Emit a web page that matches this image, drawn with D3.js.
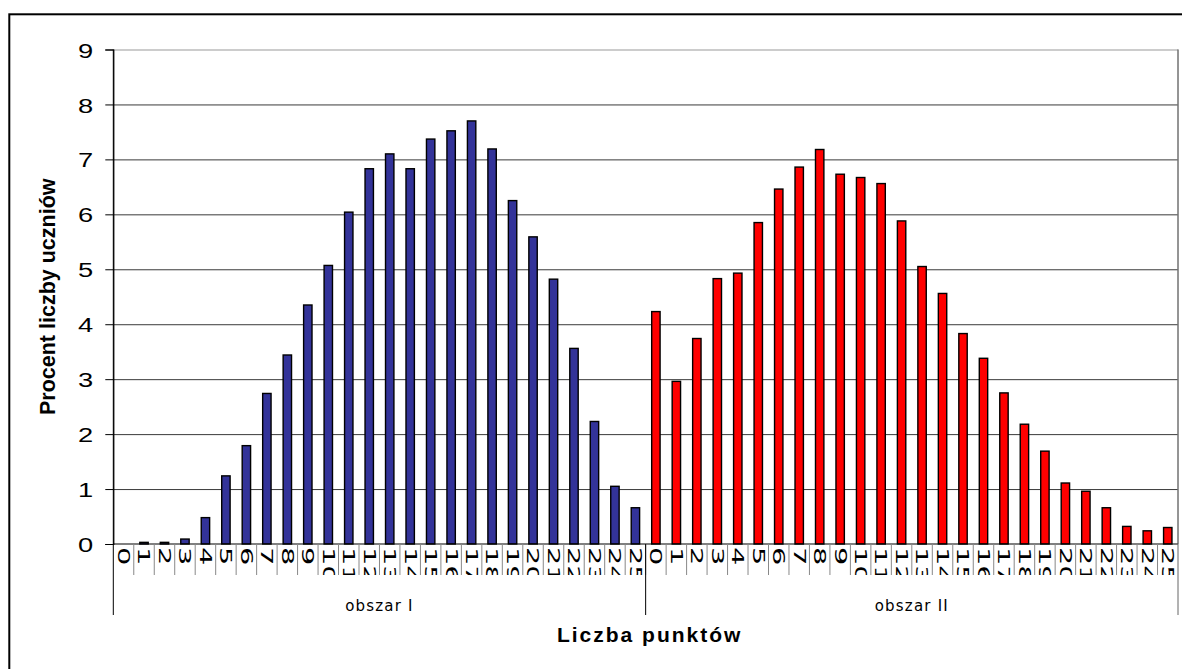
<!DOCTYPE html>
<html>
<head>
<meta charset="utf-8">
<script src="https://cdn.jsdelivr.net/npm/d3@7"></script>
<style>
  html, body { margin: 0; padding: 0; background: #fff; }
  svg { display: block; }
</style>
</head>
<body>
<svg id="chart" width="1182" height="669"></svg>
<script>
// ---- data ----
const points = ["0","1","2","3","4","5","6","7","8","9","10","11","12","13","14","15","16","17","18","19","20","21","22","23","24","25"];
const groups = ["obszar I", "obszar II"];
const obszarI  = [0, 0.03, 0.03, 0.09, 0.48, 1.24, 1.79, 2.74, 3.44, 4.35, 5.07, 6.04, 6.83, 7.10, 6.83, 7.37, 7.52, 7.70, 7.19, 6.25, 5.59, 4.82, 3.56, 2.23, 1.05, 0.66];
const obszarII = [4.23, 2.96, 3.74, 4.83, 4.93, 5.85, 6.46, 6.86, 7.18, 6.73, 6.67, 6.56, 5.88, 5.05, 4.56, 3.83, 3.38, 2.75, 2.18, 1.69, 1.11, 0.96, 0.66, 0.32, 0.24, 0.30];
const yTicks = [0,1,2,3,4,5,6,7,8,9];
const seriesColors = ["#333399", "#FF0000"];
const yTitle = "Procent liczby uczniów";
const xTitle = "Liczba punktów";

(function () {
// ---- build rows ----
const seriesValues = [obszarI, obszarII];
const rows = [];
groups.forEach((g, gi) => {
  points.forEach((p, pi) => {
    rows.push({ key: gi + "-" + p, group: gi, label: p, value: seriesValues[gi][pi] });
  });
});

const svg = d3.select("#chart");
const pLeft = 113.3, pRight = 1178, pTop = 49.5, pBottom = 544;

const x = d3.scaleBand().domain(rows.map(d => d.key)).range([pLeft, pRight]).padding(0);
const y = d3.scaleLinear().domain([0, 9]).range([pBottom, pTop]);

// outer border (cropped at right/bottom)
svg.append("rect")
  .attr("x", 9.3).attr("y", 14.3)
  .attr("width", 1250).attr("height", 750)
  .attr("fill", "none").attr("stroke", "#000").attr("stroke-width", 2);

// gridlines
const grid = svg.append("g")
  .attr("transform", `translate(${pLeft},0)`)
  .call(d3.axisLeft(y).tickValues(yTicks.filter(t => t > 0)).tickSize(-(pRight - pLeft)).tickFormat(""));
grid.select(".domain").remove();
grid.selectAll("line").attr("stroke", "#3a3a3a").attr("stroke-width", 1);
grid.selectAll(".tick").filter(d => d === 9).select("line").attr("stroke", "#999");

// plot right border
svg.append("line")
  .attr("x1", pRight).attr("x2", pRight).attr("y1", pTop).attr("y2", pBottom)
  .attr("stroke", "#888").attr("stroke-width", 1);

// bars
const bw = x.bandwidth() * 0.41;
svg.append("g").selectAll("rect")
  .data(rows.filter(d => d.value > 0))
  .join("rect")
  .attr("x", d => x(d.key) + (x.bandwidth() - bw) / 2)
  .attr("y", d => y(d.value))
  .attr("width", bw)
  .attr("height", d => y(0) - y(d.value))
  .attr("fill", d => seriesColors[d.group])
  .attr("stroke", "#000")
  .attr("stroke-width", 1.4);

// y axis
const yAxis = svg.append("g")
  .attr("transform", `translate(${pLeft},0)`)
  .call(d3.axisLeft(y).tickValues(yTicks).tickSize(8).tickPadding(0).tickFormat(d3.format("d")));
yAxis.select(".domain").attr("stroke", "#000").attr("stroke-width", 1.2);
yAxis.selectAll(".tick line").attr("stroke", "#000");
yAxis.selectAll(".tick text")
  .attr("x", 0).attr("dy", null)
  .attr("dominant-baseline", "central")
  .attr("text-anchor", "end")
  .attr("transform", "translate(-20,1) scale(1.4,1)")
  .style("font-family", "'Liberation Sans', Arial, sans-serif")
  .style("font-size", "19.5px")
  .attr("fill", "#000");

// x axis line
svg.append("line")
  .attr("x1", pLeft).attr("x2", pRight).attr("y1", pBottom).attr("y2", pBottom)
  .attr("stroke", "#000").attr("stroke-width", 1.2);

// category separators
const bounds = rows.map(d => x(d.key)).slice(1);
svg.append("g").selectAll("line")
  .data(bounds)
  .join("line")
  .attr("x1", d => d).attr("x2", d => d)
  .attr("y1", pBottom).attr("y2", 575)
  .attr("stroke", "#888").attr("stroke-width", 1);

// group separators
const groupEdges = [pLeft, x(rows[points.length].key), pRight];
svg.append("g").selectAll("line")
  .data(groupEdges)
  .join("line")
  .attr("x1", d => d).attr("x2", d => d)
  .attr("y1", (d, i) => i === 1 ? pBottom : pTop)
  .attr("y2", 615)
  .attr("stroke", (d, i) => i === 2 ? "#666" : "#000")
  .attr("stroke-width", 1);

// tick labels (rotated, clipped)
svg.append("clipPath").attr("id", "lblclip")
  .append("rect").attr("x", pLeft).attr("y", pBottom).attr("width", pRight - pLeft).attr("height", 575 - pBottom);
svg.append("g").attr("clip-path", "url(#lblclip)")
  .selectAll("text")
  .data(rows)
  .join("text")
  .attr("transform", d => `translate(${x(d.key) + x.bandwidth() / 2},547) rotate(90) scale(1.75,1)`)
  .attr("dominant-baseline", "central")
  .attr("text-anchor", "start")
  .style("font-family", "'DejaVu Sans', Verdana, sans-serif")
  .style("font-size", "16.5px")
  .attr("fill", "#000")
  .text(d => d.label);

// group labels
svg.append("g").selectAll("text")
  .data(groups)
  .join("text")
  .attr("x", (g, gi) => {
    const ks = rows.filter(r => r.group === gi);
    return (x(ks[0].key) + x(ks[ks.length - 1].key) + x.bandwidth()) / 2;
  })
  .attr("y", 611)
  .attr("text-anchor", "middle")
  .style("font-family", "'DejaVu Sans', Verdana, sans-serif")
  .style("font-size", "15px")
  .style("letter-spacing", "1.2px")
  .attr("fill", "#000")
  .text(d => d);

// axis titles
svg.append("text")
  .attr("transform", `translate(55,${(pTop + pBottom) / 2}) rotate(-90)`)
  .attr("text-anchor", "middle")
  .style("font-family", "'Liberation Sans', Arial, sans-serif")
  .style("font-size", "21.5px")
  .style("font-weight", "bold")
  .attr("fill", "#000")
  .text(yTitle);

svg.append("text")
  .attr("x", (pLeft + pRight) / 2 + 4)
  .attr("y", 642)
  .attr("text-anchor", "middle")
  .style("font-family", "'Liberation Sans', Arial, sans-serif")
  .style("font-size", "21px")
  .style("font-weight", "bold")
  .style("letter-spacing", "2px")
  .attr("fill", "#000")
  .text(xTitle);
})();
</script>
</body>
</html>
